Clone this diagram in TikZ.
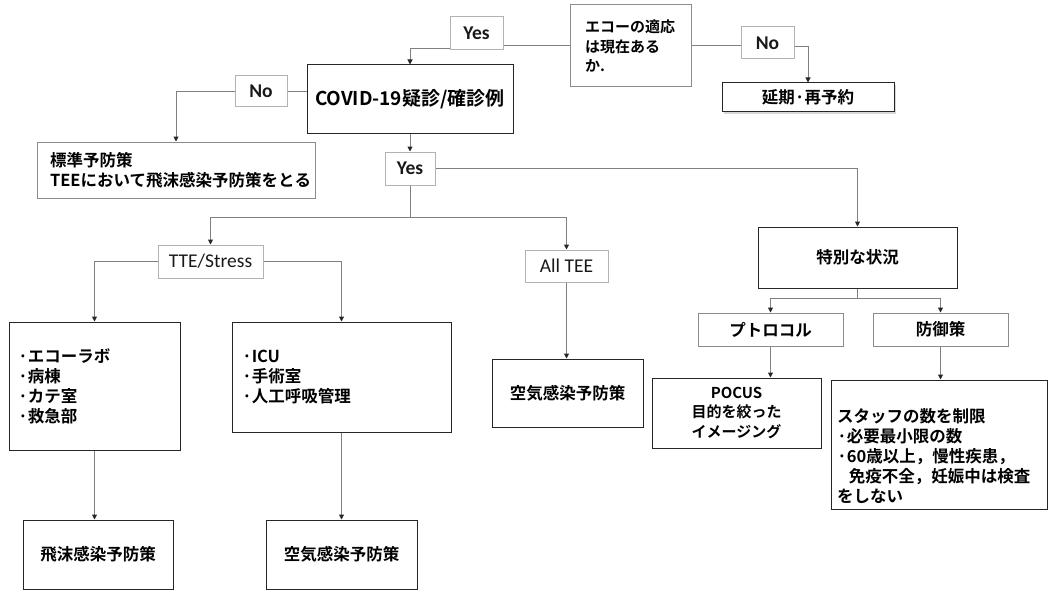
\documentclass[tikz,border=0pt]{standalone}
\usepackage{fontspec}
\setmainfont{Noto Sans CJK JP}[BoldFont={Noto Sans CJK JP Bold}]
\newfontfamily\lblfont{Carlito}
\usetikzlibrary{arrows.meta,shadows}

\newcommand\jpf{\bfseries\fontsize{16.5}{20}\selectfont}
\newcommand\jpl{\bfseries\fontsize{19}{22}\selectfont}
\newcommand\jps{\bfseries\fontsize{15}{19.5}\selectfont}
\newcommand\lbf{\lblfont\fontsize{19.5}{22}\selectfont}

\begin{document}
\begin{tikzpicture}[x=1pt,y=-1pt]
  \tikzstyle{box}=[rectangle,draw=black!85,line width=1pt,fill=white,inner sep=0pt,align=left,font=\jpf]
  \tikzstyle{gbox}=[box,draw=black!45]
  \tikzstyle{lbl}=[rectangle,draw=black!30,line width=1pt,fill=white,inner sep=0pt,font=\lbf,text=black!90]
  \tikzstyle{ln}=[draw=black!50,line width=1pt]
  \tikzstyle{arr}=[ln,-{Triangle[length=5pt,width=5pt,color=black!85]}]
  \useasboundingbox (0,0) rectangle (1048,591);

  % top row
  \node(q)[gbox,minimum width=121pt,minimum height=82pt,inner xsep=15pt,text width=91pt,font=\jps] at (630.5,46) {エコーの適応\\は現在ある\\か.};
  \node(yes1)[lbl,minimum width=53pt,minimum height=33pt,font=\lbf\bfseries] at (476.5,33.5) {Yes};
  \node(no1)[lbl,minimum width=53pt,minimum height=32pt,font=\lbf\bfseries] at (767.5,43) {No};
  \node(post)[box,minimum width=172pt,minimum height=29pt,drop shadow={shadow xshift=2pt,shadow yshift=-2pt,fill=black!30}] at (808,97.5) {延期·再予約};
  \node(covid)[box,minimum width=206pt,minimum height=68pt,inner xsep=8pt,text width=190pt,font=\jpl] at (410,99) {COVID-19疑診/確診例};
  \node(no2)[lbl,minimum width=52pt,minimum height=31pt,font=\lbf\bfseries] at (261,91.5) {No};
  \node(std)[gbox,minimum width=278pt,minimum height=56pt,inner xsep=13pt,text width=252pt] at (176,170) {標準予防策\\TEEにおいて飛沫感染予防策をとる};
  \node(yes2)[lbl,minimum width=50pt,minimum height=33pt,font=\lbf\bfseries] at (410,168.5) {Yes};

  % branches
  \node(tte)[lbl,minimum width=105pt,minimum height=33pt] at (210.5,261.5) {TTE/Stress};
  \node(alltee)[lbl,minimum width=83pt,minimum height=32pt] at (566.5,266) {All TEE};
  \node(special)[box,minimum width=199pt,minimum height=61pt] at (857.5,257.5) {特別な状況};
  \node(proto)[gbox,minimum width=145pt,minimum height=33pt] at (770.5,329.5) {プトロコル};
  \node(def)[gbox,minimum width=135pt,minimum height=33pt] at (940.5,329.5) {防御策};

  \node(list1)[box,minimum width=171pt,minimum height=128pt,inner xsep=9pt,text width=153pt] at (94.5,386) {·エコーラボ\\·病棟\\·カテ室\\·救急部};
  \node(list2)[box,minimum width=219pt,minimum height=110pt,inner xsep=10pt,text width=199pt] at (341.5,377) {·ICU\\·手術室\\·人工呼吸管理};
  \node(air2)[box,minimum width=151pt,minimum height=68pt] at (567.5,393) {空気感染予防策};
  \node(pocus)[box,minimum width=169pt,minimum height=70pt,align=center,font=\jps] at (736.5,413) {POCUS\\目的を絞った\\イメージング};
  \node(staff)[box,minimum width=216pt,minimum height=129pt] at (939,444.5) {};
  \node(stafftxt)[font=\jpf,align=left,inner sep=0pt,anchor=west] at (837,456)
    {スタッフの数を制限\\·必要最小限の数\\·60歳以上，慢性疾患，\\\hspace*{0.7em}免疫不全，妊娠中は検査\\をしない};

  \node(drop)[box,minimum width=150pt,minimum height=69pt] at (98,554.5) {飛沫感染予防策};
  \node(air1)[box,minimum width=151pt,minimum height=69pt] at (341.5,554.5) {空気感染予防策};

  \coordinate(j1) at (410,217);
  \coordinate(j2) at (857.5,298);

  \draw[ln] (q.west) -- (q.west -| yes1.east);
  \draw[arr] ([yshift=2pt]yes1.south west) -| (covid.north);
  \draw[ln] (q.east) -- (q.east -| no1.west);
  \draw[arr] ([yshift=-4pt]no1.east) -| (post.north);
  \draw[ln] (covid.west |- no2.east) -- (no2.east);
  \draw[arr] (no2.west) -| (std.north);
  \draw[arr] (covid.south) -- (yes2.north);
  \draw[arr] (yes2.east) -| (special.north);
  \draw[ln] (yes2.south) -- (j1);
  \draw[arr] (j1) -| (tte.north);
  \draw[arr] (j1) -| (alltee.north);
  \draw[arr] (tte.west) -| (list1.north);
  \draw[arr] (tte.east) -| (list2.north);
  \draw[arr] (list1.south) -- (list1.south |- drop.north);
  \draw[arr] (list2.south) -- (air1.north);
  \draw[arr] (alltee.south) -- (alltee.south |- air2.north);
  \draw[ln] (special.south) -- (j2);
  \draw[arr] (j2) -| (proto.north);
  \draw[arr] (j2) -| (def.north);
  \draw[arr] (proto.south) -- (proto.south |- pocus.north);
  \draw[arr] (def.south) -- (def.south |- staff.north);
\end{tikzpicture}
\end{document}
